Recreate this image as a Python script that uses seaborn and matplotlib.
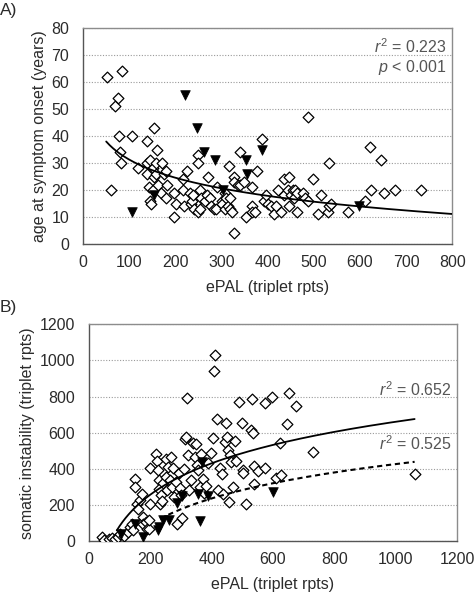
import numpy as np
import pandas as pd
import matplotlib.pyplot as plt
import seaborn as sns

# ---- Panel A: ePAL vs age at symptom onset ----
a_open_x = [51, 61, 70, 76, 85, 78, 80, 83, 106, 119, 139, 138, 139, 142, 146, 145, 148, 152, 153, 154,
            152, 157, 159, 161, 162, 168, 171, 175, 179, 181, 180, 196, 197, 201, 217, 217, 219, 226, 231, 233,
            237, 239, 241, 248, 253, 248, 248, 254, 255, 264, 268, 271, 275, 277, 284, 290, 288, 300, 302, 307,
            310, 308, 313, 317, 319, 319, 322, 326, 327, 326, 335, 340, 340, 349, 353, 365, 367, 365, 372, 377,
            388, 391, 396, 400, 407, 414, 418, 423, 428, 435, 436, 447, 445, 446, 451, 454, 460, 458, 463, 464,
            476, 480, 487, 488, 499, 509, 516, 531, 532, 534, 538, 574, 610, 622, 625, 646, 652, 675, 732]
a_open_y = [62, 20, 51, 54, 64, 40, 34, 30, 40, 28, 38, 30, 26, 21, 31, 16, 15, 28, 25, 43,
            20, 30, 26, 35, 22, 19, 30, 26, 27, 22, 17, 10, 19, 15, 24, 20, 14, 27, 19, 15,
            16, 18, 13, 12, 13, 33, 30, 20, 17, 16, 18, 25, 17, 14, 13, 21, 13, 16, 15, 19,
            17, 13, 14, 29, 17, 13, 12, 25, 23, 4, 22, 34, 22, 23, 10, 21, 14, 12, 12, 27,
            39, 16, 18, 15, 14, 11, 14, 20, 12, 24, 18, 25, 20, 14, 18, 20, 20, 17, 19, 12,
            19, 17, 16, 47, 24, 11, 18, 12, 30, 14, 15, 12, 16, 36, 20, 31, 19, 20, 20]
a_fill_x = [106, 154, 221, 246, 262, 285, 304, 354, 356, 387, 597]
a_fill_y = [12, 18, 55, 43, 34, 31, 20, 31, 26, 35, 14]
# log trend: y = c0 + c1 * ln(x)
a_fit = (75.8, -9.67)
a_fit_range = (50, 800)
a_xticks = [0, 100, 200, 300, 400, 500, 600, 700, 800]
a_yticks = [0, 10, 20, 30, 40, 50, 60, 70, 80]

# ---- Panel B: ePAL vs somatic instability ----
b_open_x = [43, 51, 65, 76, 84, 95, 103, 116, 127, 135, 141, 143, 149, 152, 157, 160, 167, 172, 176, 178,
            186, 189, 196, 198, 200, 196, 220, 222, 225, 229, 230, 233, 236, 239, 243, 250, 252, 258, 254, 263,
            268, 272, 276, 279, 283, 287, 293, 298, 301, 304, 309, 313, 317, 320, 323, 328, 334, 339, 345, 350,
            352, 357, 361, 366, 372, 374, 383, 388, 399, 404, 410, 408, 417, 422, 429, 435, 437, 443, 446, 450,
            453, 457, 461, 463, 470, 478, 480, 489, 498, 502, 504, 511, 530, 533, 535, 538, 540, 550, 573, 575,
            598, 611, 622, 627, 647, 654, 675, 730, 1062]
b_open_y = [22, 9, 11, 15, 11, 22, 37, 31, 50, 78, 96, 63, 344, 300, 207, 180, 226, 263, 133, 93,
            106, 69, 69, 407, 207, 115, 481, 443, 393, 341, 290, 204, 254, 222, 319, 457, 356, 411, 281, 337,
            467, 300, 407, 244, 328, 96, 378, 296, 254, 130, 402, 563, 578, 791, 476, 281, 337, 544, 467, 537,
            420, 393, 300, 481, 346, 267, 304, 433, 489, 569, 1031, 944, 674, 281, 407, 370, 263, 550, 652, 576,
            504, 215, 476, 439, 300, 556, 444, 772, 652, 393, 378, 207, 615, 789, 596, 315, 415, 389, 405, 763,
            796, 350, 544, 365, 648, 819, 750, 494, 370]
b_fill_x = [104, 152, 178, 225, 229, 241, 262, 287, 304, 357, 361, 369, 387, 600]
b_fill_y = [42, 96, 22, 63, 78, 119, 115, 209, 251, 263, 113, 438, 251, 270]
b_fit_solid = (-1073.2, 251.0)
b_fit_solid_range = (91, 1062)
b_fit_dash = (-1007.6, 207.6)
b_fit_dash_range = (233, 1062)
b_xticks = [0, 200, 400, 600, 800, 1000, 1200]
b_yticks = [0, 200, 400, 600, 800, 1000, 1200]

sns.set_style("white")
plt.rcParams['font.family'] = ['Liberation Sans', 'DejaVu Sans']
plt.rcParams['mathtext.fontset'] = 'custom'
plt.rcParams['mathtext.rm'] = 'Liberation Sans'
plt.rcParams['mathtext.it'] = 'Liberation Sans:italic'

TXT = '#2b2b2b'
GRAY = '#555555'
FS = 11.5


def trend(coef, xr):
    xs = np.linspace(xr[0], xr[1], 200)
    return pd.DataFrame({'x': xs, 'y': coef[0] + coef[1] * np.log(xs)})


def style_axes(ax, xticks, yticks, minor=None):
    ax.set_xlim(xticks[0], xticks[-1])
    ax.set_ylim(yticks[0], yticks[-1])
    ax.set_xticks(xticks)
    ax.set_yticks(yticks)
    if minor is not None:
        ax.set_xticks(minor, minor=True)
    for s in ax.spines.values():
        s.set_color('#8c8c8c')
        s.set_linewidth(1.0)
    ax.spines['bottom'].set_color('#555555')
    ax.spines['left'].set_color('#555555')
    ax.yaxis.grid(True, linestyle=(0, (1, 1.5)), color='#9a9a9a', linewidth=0.8)
    ax.set_axisbelow(True)
    ax.tick_params(axis='x', which='both', direction='in', length=3, color='#555555',
                   labelsize=FS, labelcolor=TXT, pad=8)
    ax.tick_params(axis='y', length=0, labelsize=FS, labelcolor=TXT, pad=10)


fig = plt.figure(figsize=(4.75, 5.94), dpi=100)
axA = fig.add_axes([0.175, 0.589, 0.777, 0.364])
axB = fig.add_axes([0.187, 0.089, 0.775, 0.365])

# Panel A
sns.scatterplot(x=a_open_x, y=a_open_y, ax=axA, marker='D', s=30, facecolor='white',
                edgecolor='black', linewidth=0.9, zorder=3)
sns.scatterplot(x=a_fill_x, y=a_fill_y, ax=axA, marker='v', s=48, color='black',
                edgecolor='black', linewidth=0.5, zorder=3)
sns.lineplot(data=trend(a_fit, a_fit_range), x='x', y='y', ax=axA, color='black',
             linewidth=1.3, zorder=4)
style_axes(axA, a_xticks, a_yticks, minor=list(range(50, 800, 100)))
axA.set_xlabel('ePAL (triplet rpts)', fontsize=FS, color=TXT, labelpad=7)
axA.set_ylabel('age at symptom onset (years)', fontsize=FS, color=TXT, labelpad=3)
axA.text(0.985, 0.955, r'$\mathit{r}^2$ = 0.223', transform=axA.transAxes, ha='right',
         va='top', fontsize=FS, color=GRAY)
axA.text(0.985, 0.86, r'$\mathit{p}$ < 0.001', transform=axA.transAxes, ha='right',
         va='top', fontsize=FS, color=GRAY)

# Panel B
sns.scatterplot(x=b_open_x, y=b_open_y, ax=axB, marker='D', s=30, facecolor='white',
                edgecolor='black', linewidth=0.9, zorder=3)
sns.scatterplot(x=b_fill_x, y=b_fill_y, ax=axB, marker='v', s=48, color='black',
                edgecolor='black', linewidth=0.5, zorder=3)
sns.lineplot(data=trend(b_fit_solid, b_fit_solid_range), x='x', y='y', ax=axB,
             color='black', linewidth=1.3, zorder=4)
sns.lineplot(data=trend(b_fit_dash, b_fit_dash_range), x='x', y='y', ax=axB,
             color='black', linewidth=1.5, linestyle=(0, (2.5, 1.8)), zorder=4)
style_axes(axB, b_xticks, b_yticks)
axB.set_xlabel('ePAL (triplet rpts)', fontsize=FS, color=TXT, labelpad=7)
axB.set_ylabel('somatic instability (triplet rpts)', fontsize=FS, color=TXT, labelpad=3)
axB.text(0.985, 0.655, r'$\mathit{r}^2$ = 0.652', transform=axB.transAxes, ha='right',
         va='bottom', fontsize=FS, color=GRAY)
axB.text(0.985, 0.405, r'$\mathit{r}^2$ = 0.525', transform=axB.transAxes, ha='right',
         va='bottom', fontsize=FS, color=GRAY)

fig.text(0.0, 0.982, 'A)', fontsize=12.5, color=TXT, ha='left', va='center')
fig.text(0.0, 0.482, 'B)', fontsize=12.5, color=TXT, ha='left', va='center')

fig.savefig('out.png', dpi=100)
